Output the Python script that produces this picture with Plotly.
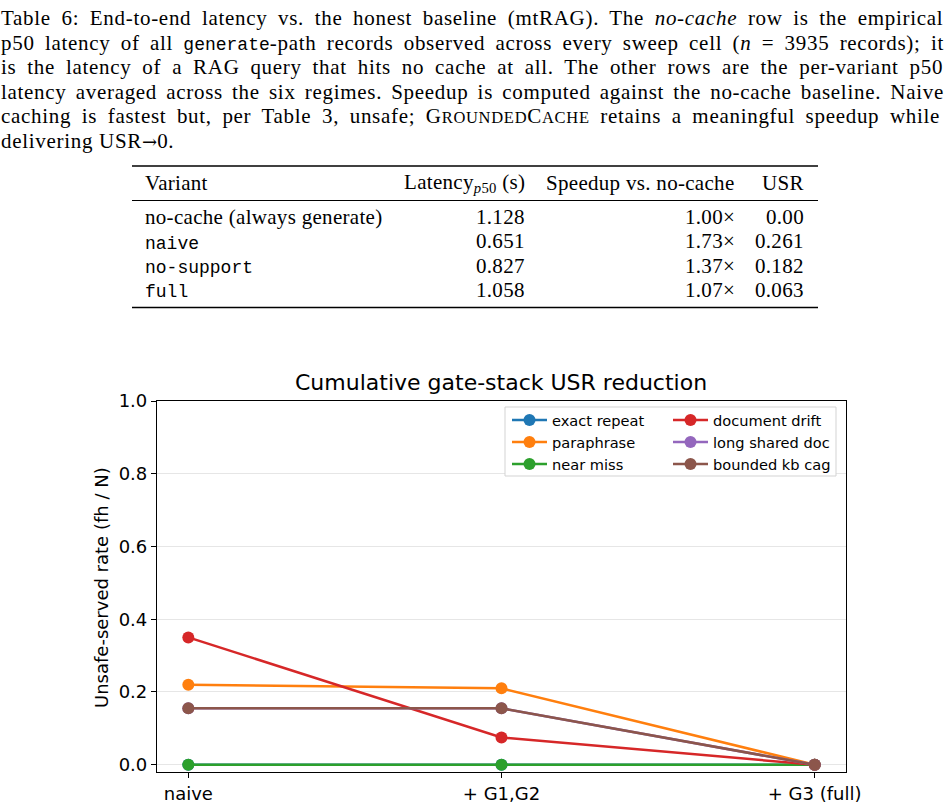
import plotly.graph_objects as go

# ---------------- data ----------------
stages = ["naive", "+ G1,G2", "+ G3 (full)"]
series_names = ["exact repeat", "paraphrase", "near miss",
                "document drift", "long shared doc", "bounded kb cag"]
exact_repeat = [0.0, 0.0, 0.0]
paraphrase = [0.22, 0.21, 0.0]
near_miss = [0.0, 0.0, 0.0]
document_drift = [0.35, 0.075, 0.0]
long_shared_doc = [0.155, 0.155, 0.0]
bounded_kb_cag = [0.155, 0.155, 0.0]
series_values = [exact_repeat, paraphrase, near_miss,
                 document_drift, long_shared_doc, bounded_kb_cag]
series_colors = ["#1f77b4", "#ff7f0e", "#2ca02c", "#d62728", "#9467bd", "#8c564b"]

y_ticks = [0.0, 0.2, 0.4, 0.6, 0.8, 1.0]

table_variants = ["no-cache (always generate)", "naive", "no-support", "full"]
table_variant_mono = [False, True, True, True]
table_latency = [1.128, 0.651, 0.827, 1.058]
table_speedup = [1.00, 1.73, 1.37, 1.07]
table_usr = ["0.00", "0.261", "0.182", "0.063"]
table_headers = ["Variant", "Latency<sub><i>p</i>50</sub> (s)", "Speedup vs. no-cache", "USR"]

# ---------------- geometry ----------------
W, H = 949, 808
L, R, T, B = 157, 103, 401, 36


def px_x(px):
    return (px - L) / (W - L - R)


def px_y(py):
    return (H - B - py) / (H - T - B)


SERIF = "Liberation Serif"
MONO = "Liberation Mono"
SANS = "DejaVu Sans"
FS = 21.0      # serif size
FS_TT = 18.0   # mono size
FS_SC = 16.5   # small caps size
LS = 0.7       # letter spacing for caption serif text
LS_TAB = 0.3   # letter spacing for table serif text

# Times / Liberation Serif advance widths (per 1000 em)
_tw = {' ': 250, '!': 333, '(': 333, ')': 333, ',': 250, '-': 333, '.': 250,
       ':': 278, ';': 278, '=': 564, '×': 564, '→': 840}
for d in "0123456789":
    _tw[d] = 500
_up = dict(zip("ABCDEFGHIJKLMNOPQRSTUVWXYZ",
               [722, 667, 667, 722, 611, 556, 722, 722, 333, 389, 722, 611, 889,
                722, 722, 556, 722, 667, 556, 611, 722, 722, 944, 722, 722, 611]))
_lo = dict(zip("abcdefghijklmnopqrstuvwxyz",
               [444, 500, 444, 500, 444, 333, 500, 500, 278, 278, 500, 278, 778,
                500, 500, 500, 500, 333, 389, 278, 500, 500, 722, 500, 500, 444]))
_tw.update(_up)
_tw.update(_lo)


def seg_width(text, kind):
    if kind == "tt":
        return len(text) * 0.6 * FS_TT
    size = FS_SC if kind == "sc" else FS
    return sum(_tw.get(c, 500) for c in text) / 1000.0 * size + LS * len(text)


STYLE = {"rm": "letter-spacing:%spx;" % LS,
         "it": "font-style:italic;letter-spacing:%spx;" % LS,
         "tt": "font-family:%s;font-size:%spx;" % (MONO, FS_TT),
         "sc": "font-size:%spx;letter-spacing:%spx;" % (FS_SC, LS),
         "ar": "font-family:DejaVu Serif;font-size:18px;"}


def build_line(segs, target=None):
    nat = sum(seg_width(t, k) for t, k in segs)
    nsp = sum(t.count(" ") for t, k in segs)
    ws = 0.0
    if target is not None and nsp:
        ws = (target - nat) / nsp
    out = ""
    for t, k in segs:
        out += '<span style="%sword-spacing:%.2fpx">%s</span>' % (STYLE[k], ws, t)
    return out


def serif_span(txt):
    return '<span style="letter-spacing:%spx">%s</span>' % (LS_TAB, txt)


caption_lines = [
    [("Table 6: End-to-end latency vs. the honest baseline (mtRAG). The ", "rm"),
     ("no-cache", "it"), (" row is the empirical", "rm")],
    [("p50 latency of all ", "rm"), ("generate", "tt"),
     ("-path records observed across every sweep cell (", "rm"), ("n", "it"),
     (" = 3935 records); it", "rm")],
    [("is the latency of a RAG query that hits no cache at all. The other rows are the per-variant p50", "rm")],
    [("latency averaged across the six regimes. Speedup is computed against the no-cache baseline. Naive", "rm")],
    [("caching is fastest but, per Table 3, unsafe; G", "rm"), ("ROUNDED", "sc"), ("C", "rm"),
     ("ACHE", "sc"), (" retains a meaningful speedup while", "rm")],
    [("delivering USR", "rm"), ("→", "ar"), ("0.", "rm")],
]
caption_y = [18, 43, 67, 92, 116, 141]
caption_targets = [943, 943, 943, 943, 941, None]

annotations = []
for segs, cy, tgt in zip(caption_lines, caption_y, caption_targets):
    annotations.append(dict(
        text=build_line(segs, tgt), x=px_x(0), y=px_y(cy), xref="paper", yref="paper",
        xanchor="left", yanchor="middle", showarrow=False, borderpad=0,
        font=dict(family=SERIF, size=FS, color="black")))

# table
col_x = [144, 526, 736, 805]
col_anchor = ["left", "right", "right", "right"]
header_y = 183
row_y = [217, 241.5, 266, 290]
for txt, cx, anc in zip(table_headers, col_x, col_anchor):
    annotations.append(dict(text=serif_span(txt), x=px_x(cx), y=px_y(header_y),
                            xref="paper", yref="paper",
                            xanchor=anc, yanchor="middle", showarrow=False, borderpad=0,
                            font=dict(family=SERIF, size=FS, color="black")))
for i, ry in enumerate(row_y):
    cells = [table_variants[i], "%.3f" % table_latency[i], "%.2f×" % table_speedup[i], table_usr[i]]
    for j, (txt, cx, anc) in enumerate(zip(cells, col_x, col_anchor)):
        mono = (j == 0 and table_variant_mono[i])
        annotations.append(dict(text=txt if mono else serif_span(txt),
                                x=px_x(cx), y=px_y(ry + (2 if mono else 0)),
                                xref="paper", yref="paper",
                                xanchor=anc, yanchor="middle", showarrow=False, borderpad=0,
                                font=dict(family=MONO if mono else SERIF,
                                          size=FS_TT if mono else FS, color="black")))

shapes = [
    dict(type="line", xref="paper", yref="paper", x0=px_x(132), x1=px_x(818),
         y0=px_y(166), y1=px_y(166), line=dict(color="black", width=1.6)),
    dict(type="line", xref="paper", yref="paper", x0=px_x(132), x1=px_x(818),
         y0=px_y(200.5), y1=px_y(200.5), line=dict(color="black", width=1)),
    dict(type="line", xref="paper", yref="paper", x0=px_x(132), x1=px_x(818),
         y0=px_y(307.5), y1=px_y(307.5), line=dict(color="black", width=1.6)),
    # legend frame
    dict(type="rect", xref="paper", yref="paper", x0=px_x(505), x1=px_x(836),
         y0=px_y(476), y1=px_y(407), line=dict(color="#d3d3d3", width=1),
         fillcolor="white", layer="above"),
]

# chart title and y label
annotations.append(dict(text="Cumulative gate-stack USR reduction", x=px_x(501), y=px_y(382),
                        xref="paper", yref="paper", xanchor="center", yanchor="middle",
                        showarrow=False, font=dict(family=SANS, size=22, color="black")))
annotations.append(dict(text="Unsafe-served rate (fh / N)", x=px_x(101), y=px_y(588),
                        xref="paper", yref="paper", xanchor="center", yanchor="middle",
                        textangle=-90, showarrow=False,
                        font=dict(family=SANS, size=18, color="black")))

fig = go.Figure()
for k, (name, vals, col) in enumerate(zip(series_names, series_values, series_colors)):
    fig.add_trace(go.Scatter(
        x=stages, y=vals, name=name, mode="lines+markers",
        line=dict(color=col, width=2.5), marker=dict(color=col, size=12),
        legend="legend" if k < 3 else "legend2"))

leg_common = dict(xanchor="left", yanchor="top", bgcolor="rgba(0,0,0,0)",
                  borderwidth=0, tracegroupgap=0, itemwidth=35,
                  font=dict(family=SANS, size=14.6, color="black"))

fig.update_layout(
    width=W, height=H, margin=dict(l=L, r=R, t=T, b=B, autoexpand=False),
    paper_bgcolor="white", plot_bgcolor="white",
    font=dict(family=SANS, color="black"),
    showlegend=True,
    legend=dict(x=px_x(507), y=px_y(404), **leg_common),
    legend2=dict(x=px_x(668), y=px_y(404), **leg_common),
    annotations=annotations, shapes=shapes,
    xaxis=dict(type="category", categoryorder="array", categoryarray=stages,
               range=[-0.1, 2.1], showgrid=False, zeroline=False,
               showline=True, linecolor="black", linewidth=1.2, mirror=True,
               ticks="outside", ticklen=5, tickwidth=1.2, tickcolor="black",
               tickfont=dict(family=SANS, size=18, color="black")),
    yaxis=dict(range=[-0.02, 1.0], tickvals=y_ticks, tickformat=".1f",
               showgrid=True, gridcolor="#e6e6e6", gridwidth=1, zeroline=False,
               showline=True, linecolor="black", linewidth=1.2, mirror=True,
               ticks="outside", ticklen=5, tickwidth=1.2, tickcolor="black",
               tickfont=dict(family=SANS, size=18, color="black")),
)

fig.write_html("out.html")
